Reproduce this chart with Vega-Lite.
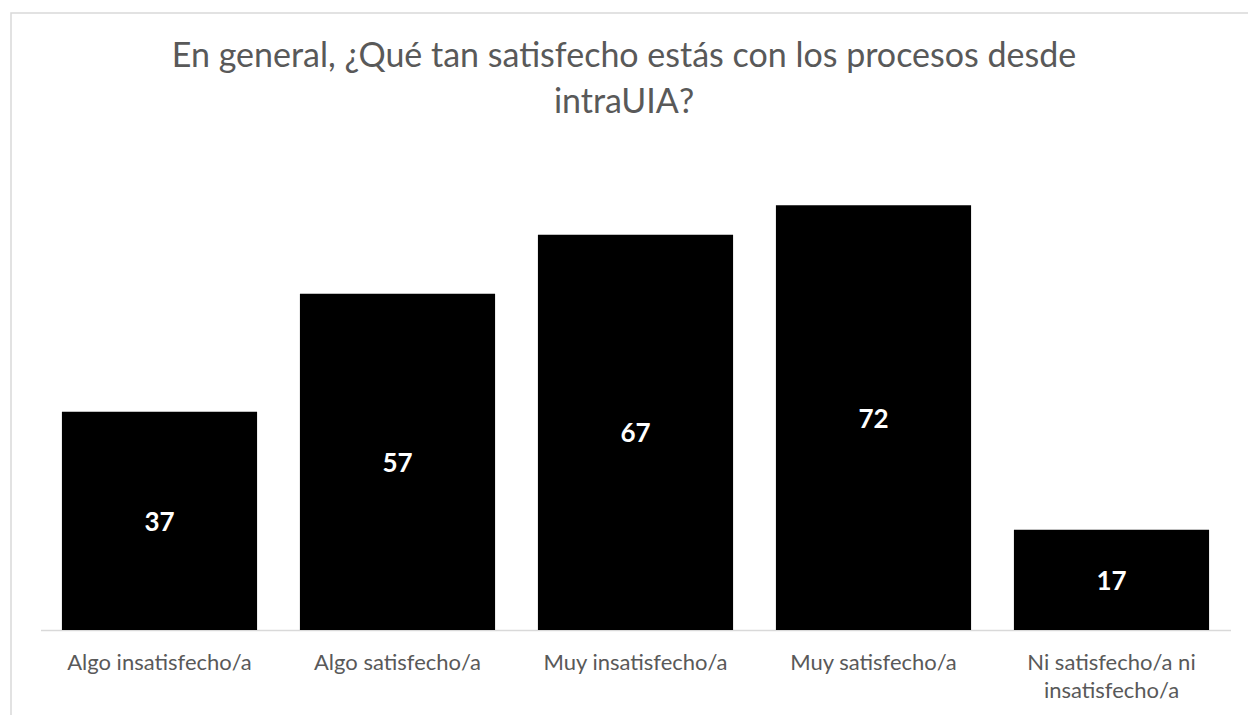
{
  "$schema": "https://vega.github.io/schema/vega-lite/v6.json",
  "width": 1250,
  "height": 710,
  "autosize": "none",
  "padding": {"left": 11, "top": 13, "right": 0, "bottom": 0},
  "background": "white",
  "config": {
    "view": {"stroke": "#d9d9d9", "strokeWidth": 1.5},
    "font": "Lato"
  },
  "title": {
    "text": ["En general, ¿Qué tan satisfecho estás con los procesos desde", "intraUIA?"],
    "anchor": "middle",
    "frame": "group",
    "orient": "top",
    "offset": -107,
    "dx": -12,
    "fontSize": 34,
    "fontWeight": "normal",
    "font": "Lato",
    "color": "#595959",
    "lineHeight": 46
  },
  "data": {
    "values": [
      {"categoria": "Algo insatisfecho/a", "valor": 37},
      {"categoria": "Algo satisfecho/a", "valor": 57},
      {"categoria": "Muy insatisfecho/a", "valor": 67},
      {"categoria": "Muy satisfecho/a", "valor": 72},
      {"categoria": "Ni satisfecho/a ni insatisfecho/a", "valor": 17}
    ]
  },
  "encoding": {
    "x": {
      "field": "categoria",
      "type": "nominal",
      "sort": null,
      "scale": {"range": [29.5, 1219.5], "paddingInner": 0.18, "paddingOuter": 0.09},
      "axis": {
        "title": null,
        "orient": "bottom",
        "offset": -93,
        "domainColor": "#d9d9d9",
        "domainWidth": 1.5,
        "ticks": false,
        "labelAngle": 0,
        "labelFontSize": 22,
        "labelColor": "#595959",
        "labelFont": "Lato",
        "labelPadding": 22,
        "labelBaseline": "top",
        "labelLineHeight": 28,
        "labelLimit": 400,
        "labelExpr": "datum.value == 'Ni satisfecho/a ni insatisfecho/a' ? ['Ni satisfecho/a ni', 'insatisfecho/a'] : datum.value"
      }
    }
  },
  "layer": [
    {
      "mark": {"type": "bar", "color": "#000000"},
      "encoding": {
        "y": {
          "field": "valor",
          "type": "quantitative",
          "scale": {"domain": [0, 80], "range": [617, 145], "nice": false, "zero": true},
          "axis": null
        }
      }
    },
    {
      "mark": {"type": "text", "color": "#ffffff", "fontSize": 26, "fontWeight": "bold", "font": "Lato", "baseline": "middle", "dy": 2},
      "encoding": {
        "text": {"field": "valor", "type": "quantitative"},
        "y": {
          "field": "valor",
          "type": "quantitative",
          "scale": {"domain": [0, 160], "range": [617, 145], "nice": false, "zero": true},
          "axis": null
        }
      }
    }
  ],
  "resolve": {"scale": {"y": "independent"}}
}
